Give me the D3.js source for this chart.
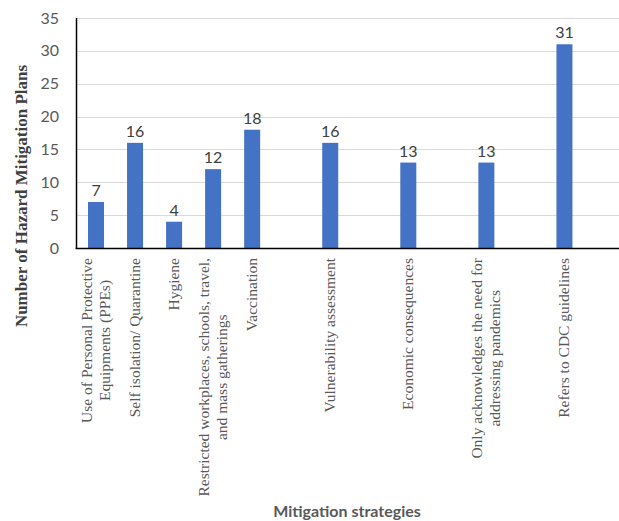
<!DOCTYPE html>
<html>
<head>
<meta charset="utf-8">
<script src="https://cdn.jsdelivr.net/npm/d3@7"></script>
<style>
  body { margin: 0; background: #fff; }
  svg { display: block; }
</style>
</head>
<body>
<div id="chart"></div>
<script>
// categories, blank slots are the empty columns of the original sheet
var categories = [
  "Use of Personal Protective\nEquipments (PPEs)",
  "Self isolation/ Quarantine",
  "Hygiene",
  "Restricted workplaces, schools, travel,\nand mass gatherings",
  "Vaccination",
  "",
  "Vulnerability assessment",
  "",
  "Economic consequences",
  "",
  "Only acknowledges the need for\naddressing pandemics",
  "",
  "Refers to CDC guidelines",
  ""
];
var counts = [7, 16, 4, 12, 18, null, 16, null, 13, null, 13, null, 31, null];
var yTicks = [0, 5, 10, 15, 20, 25, 30, 35];
var yTitle = "Number of Hazard Mitigation Plans";
var xTitle = "Mitigation strategies";

var w = 619;
var h = 521;
var plotLeft = 76.5, plotRight = 623, plotTop = 18, plotBottom = 248;

var svg = d3.select("#chart")
  .append("svg")
  .attr("width", w)
  .attr("height", h);

var x = d3.scaleBand()
  .domain(d3.range(categories.length))
  .range([plotLeft, plotRight])
  .paddingInner(0.59)
  .paddingOuter(0.295);

var y = d3.scaleLinear()
  .domain([0, 35])
  .range([plotBottom, plotTop]);

// gridlines
svg.append("g")
  .selectAll("line")
  .data(yTicks.filter(function(d){ return d > 0; }))
  .enter().append("line")
  .attr("x1", plotLeft)
  .attr("x2", w)
  .attr("y1", function(d){ return Math.round(y(d)) + 0.5; })
  .attr("y2", function(d){ return Math.round(y(d)) + 0.5; })
  .style("stroke", "#d9d9d9")
  .style("stroke-width", 1);

// y tick labels
svg.append("g")
  .selectAll("text")
  .data(yTicks)
  .enter().append("text")
  .attr("x", 59)
  .attr("y", function(d){ return y(d); })
  .attr("dy", "0.35em")
  .attr("text-anchor", "end")
  .style("font-family", "Lato, 'Open Sans', sans-serif")
  .style("font-size", "16px")
  .style("fill", "#595959")
  .text(function(d){ return d; });

// bars
var idx = d3.range(categories.length).filter(function(i){ return counts[i] != null; });

svg.append("g")
  .selectAll("rect")
  .data(idx)
  .enter().append("rect")
  .attr("x", function(i){ return x(i); })
  .attr("width", x.bandwidth())
  .attr("y", function(i){ return y(counts[i]); })
  .attr("height", function(i){ return y(0) - y(counts[i]); })
  .style("fill", "#4472c4");

// value labels
svg.append("g")
  .selectAll("text")
  .data(idx)
  .enter().append("text")
  .attr("x", function(i){ return x(i) + x.bandwidth() / 2; })
  .attr("y", function(i){ return y(counts[i]) - 6; })
  .attr("text-anchor", "middle")
  .style("font-family", "Lato, 'Open Sans', sans-serif")
  .style("font-size", "16px")
  .style("fill", "#404040")
  .text(function(i){ return counts[i]; });

// axes lines
svg.append("line")
  .attr("x1", plotLeft).attr("x2", plotLeft)
  .attr("y1", plotTop).attr("y2", plotBottom)
  .style("stroke", "#000").style("stroke-width", 1.5);
svg.append("line")
  .attr("x1", plotLeft - 1).attr("x2", w)
  .attr("y1", plotBottom + 0.5).attr("y2", plotBottom + 0.5)
  .style("stroke", "#000").style("stroke-width", 1.5);

// category labels, rotated, lines centred in the block
var lineH = 18;
var labelTop = 258;
var cats = svg.append("g");
idx.forEach(function(i){
  var lines = categories[i].split("\n");
  var cx = x(i) + x.bandwidth() / 2;
  var g = cats.append("g");
  var texts = lines.map(function(s, k){
    return g.append("text")
      .attr("text-anchor", "middle")
      .style("font-family", "'Liberation Serif', 'Times New Roman', serif")
      .style("font-size", "15.5px")
      .style("fill", "#595959")
      .text(s);
  });
  var maxLen = d3.max(texts, function(t){ return t.node().getComputedTextLength(); });
  var cy = labelTop + maxLen / 2;
  texts.forEach(function(t, k){
    var off = (k - (lines.length - 1) / 2) * lineH;
    var tx = cx + off + 5;
    t.attr("transform", "translate(" + tx + "," + cy + ") rotate(-90)");
  });
});

// axis titles
svg.append("text")
  .attr("transform", "translate(27,196) rotate(-90)")
  .attr("text-anchor", "middle")
  .style("font-family", "'Liberation Serif', 'Times New Roman', serif")
  .style("font-weight", "bold")
  .style("font-size", "17px")
  .style("fill", "#404040")
  .text(yTitle);

svg.append("text")
  .attr("x", 347)
  .attr("y", 517)
  .attr("text-anchor", "middle")
  .style("font-family", "Lato, 'Open Sans', sans-serif")
  .style("font-weight", "bold")
  .style("font-size", "16px")
  .style("fill", "#595959")
  .text(xTitle);
</script>
</body>
</html>
